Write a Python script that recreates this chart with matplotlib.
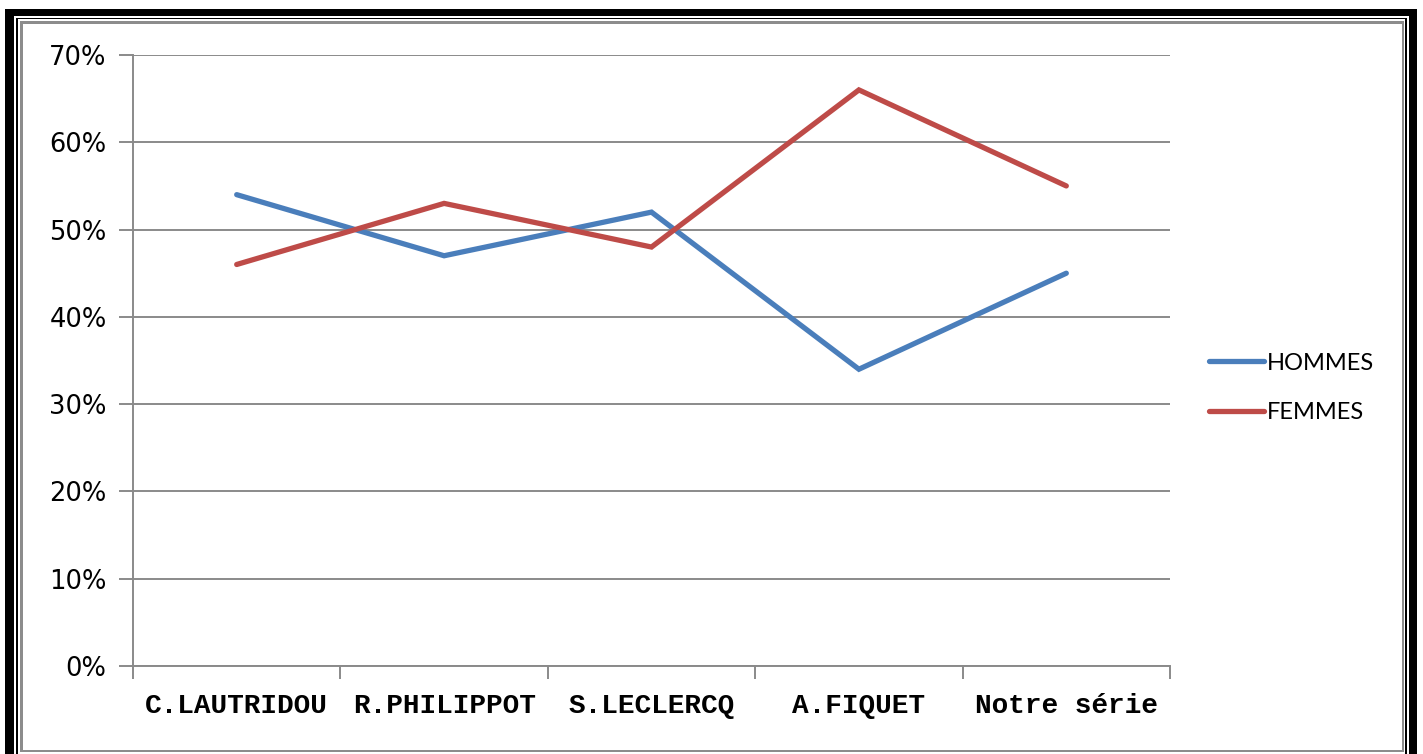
import matplotlib
matplotlib.use("Agg")
import matplotlib.pyplot as plt
from matplotlib.patches import Rectangle
from matplotlib.ticker import FuncFormatter

# Series data
categories = ["C.LAUTRIDOU", "R.PHILIPPOT", "S.LECLERCQ", "A.FIQUET", "Notre série"]
hommes = [54, 47, 52, 34, 45]
femmes = [46, 53, 48, 66, 55]
y_ticks = [0, 10, 20, 30, 40, 50, 60, 70]

W, H = 1423, 754
DPI = 100
fig = plt.figure(figsize=(W / DPI, H / DPI), dpi=DPI)
fig.patch.set_facecolor("white")


def frame_rect(x0, y0, x1, y1, color):
    """Rectangle in pixel units measured from the top-left corner."""
    fig.add_artist(Rectangle((x0 / W, 1 - y1 / H), (x1 - x0) / W, (y1 - y0) / H,
                             transform=fig.transFigure, facecolor=color,
                             edgecolor="none", zorder=0))


# Decorative border: thick black, thin black, grey inner line
frame_rect(5, 9, 1417, 16, "black")        # top thick
frame_rect(5, 9, 14, H, "black")           # left thick
frame_rect(1409, 9, 1417, H, "black")      # right thick
frame_rect(16, 18, 1407, 19, "black")      # top thin
frame_rect(16, 18, 17.5, H, "black")       # left thin
frame_rect(1405, 18, 1406.5, H, "black")   # right thin
frame_rect(20, 21, 1404, 23.5, "#8c8c8c")  # top grey
frame_rect(20, 21, 22.5, 752, "#8c8c8c")   # left grey
frame_rect(1401.5, 21, 1404, 752, "#8c8c8c")  # right grey
frame_rect(20, 749.5, 1404, 752, "#8c8c8c")   # bottom grey

left, right, top, bottom = 133, 1170, 55, 666
ax = fig.add_axes([left / W, 1 - bottom / H, (right - left) / W, (bottom - top) / H])
ax.set_facecolor("none")

x = list(range(len(categories)))
blue = "#4A7EBB"
red = "#BE4B48"
ax.plot(x, hommes, color=blue, lw=3.8, solid_capstyle="round",
        solid_joinstyle="miter", label="HOMMES", zorder=3)
ax.plot(x, femmes, color=red, lw=3.8, solid_capstyle="round",
        solid_joinstyle="miter", label="FEMMES", zorder=3)

ax.set_xlim(-0.5, len(categories) - 0.5)
ax.set_ylim(0, 70)
ax.set_yticks(y_ticks)
ax.yaxis.set_major_formatter(FuncFormatter(lambda v, p: f"{v:.0f}%"))
ax.grid(axis="y", color="#8a8a8a", lw=1.4)
ax.set_axisbelow(True)

# Category ticks sit on the boundaries between categories
ax.set_xticks([i - 0.5 for i in range(len(categories) + 1)], minor=False)
ax.set_xticklabels([])
ax.set_xticks(x, minor=True)
ax.set_xticklabels(categories, minor=True, family="Liberation Mono",
                   fontweight="bold", fontsize=20)
ax.tick_params(axis="x", which="minor", length=0, pad=19.5)
ax.tick_params(axis="x", which="major", length=9, width=1.4, color="#8a8a8a", direction="out")
ax.tick_params(axis="y", length=10, width=1.4, color="#8a8a8a", pad=9,
               labelsize=18.5)
for lbl in ax.get_yticklabels():
    lbl.set_family("DejaVu Sans")

for s in ["top", "right"]:
    ax.spines[s].set_visible(False)
for s in ["left", "bottom"]:
    ax.spines[s].set_color("#8a8a8a")
    ax.spines[s].set_linewidth(1.4)

leg = fig.legend(loc="center left", bbox_to_anchor=(1188 / W, 1 - 388 / H),
                 frameon=False, prop={"family": "Lato", "size": 17},
                 handlelength=2.3, handletextpad=0.15, labelspacing=1.22)

fig.savefig("out.png", dpi=DPI, facecolor="white")
